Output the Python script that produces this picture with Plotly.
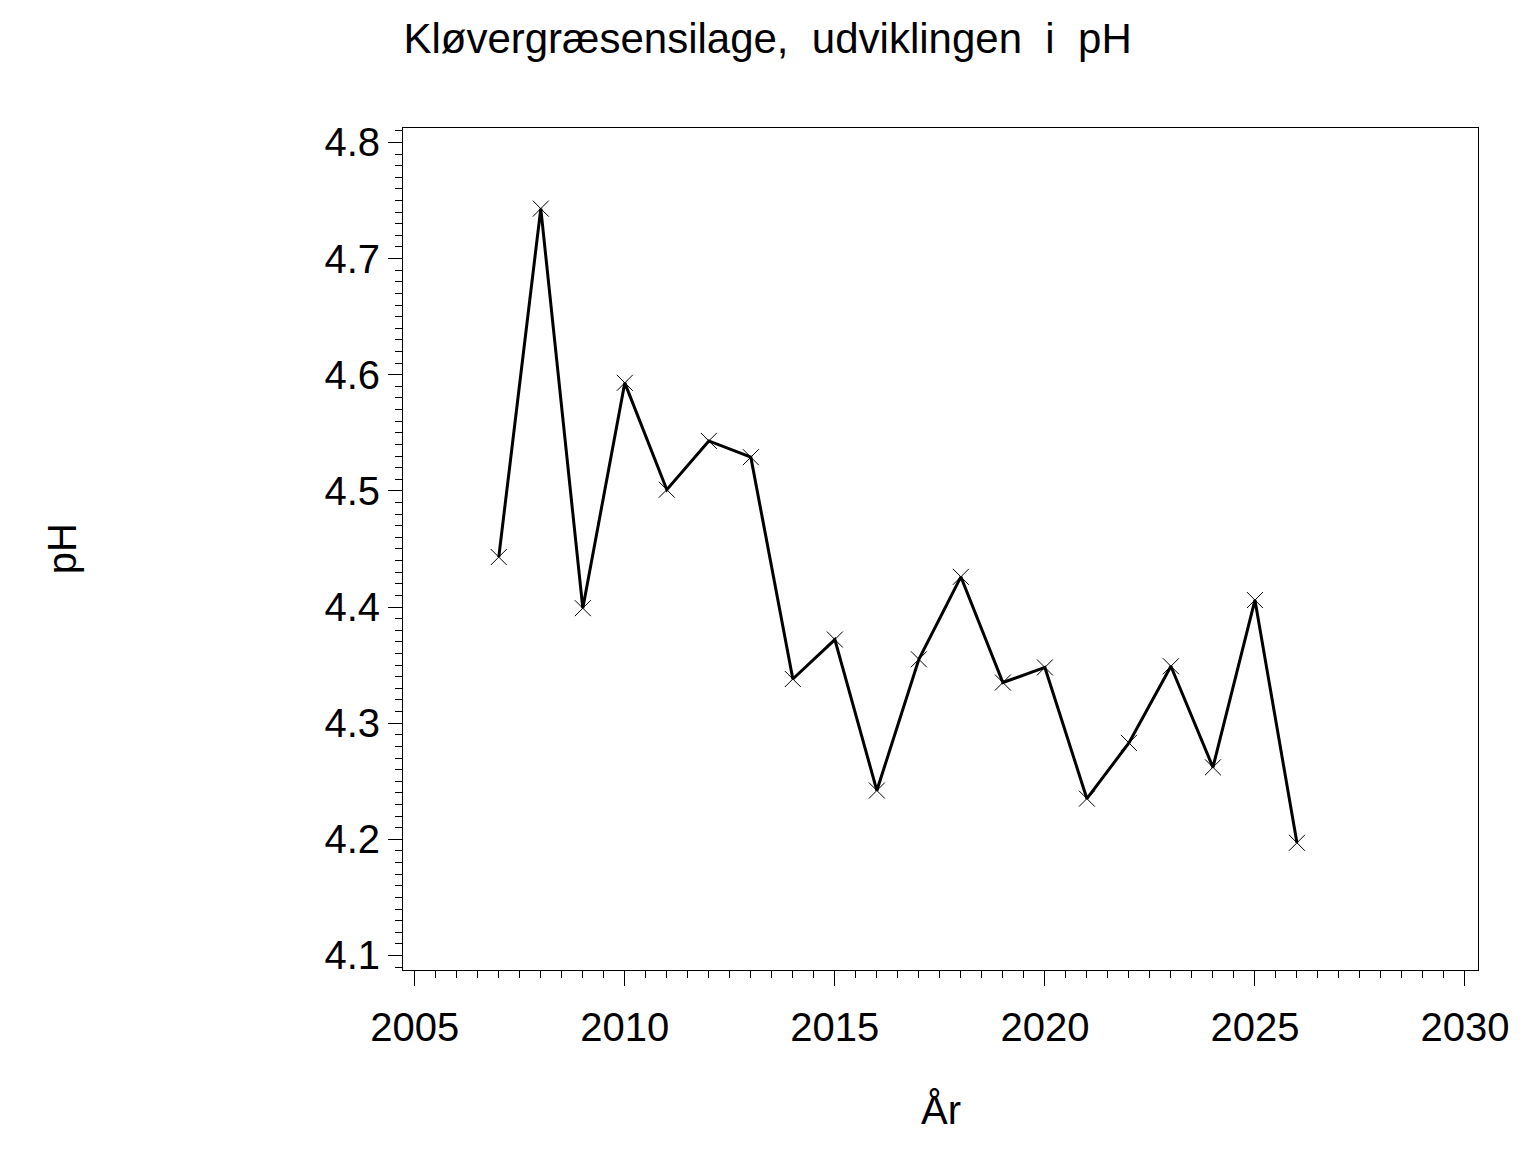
import plotly.graph_objects as go

# pH per year
years = [2007, 2008, 2009, 2010, 2011, 2012, 2013, 2014, 2015, 2016,
         2017, 2018, 2019, 2020, 2021, 2022, 2023, 2024, 2025, 2026]
ph = [4.443, 4.743, 4.399, 4.593, 4.501, 4.543, 4.529, 4.338, 4.372, 4.242,
      4.355, 4.426, 4.335, 4.348, 4.235, 4.283, 4.349, 4.262, 4.406, 4.197]

title_text = "Kløvergræsensilage,  udviklingen  i  pH"
x_title = "År"
y_title = "pH"

font_fam = "Liberation Sans, Arial, sans-serif"

fig = go.Figure()
fig.add_trace(go.Scatter(
    x=years, y=ph, mode="lines+markers",
    line=dict(color="black", width=3),
    marker=dict(symbol="x-thin-open", size=16, color="black",
                line=dict(color="black", width=1)),
    showlegend=False,
))

# page body adds 8px, so margins are shifted a bit
fig.update_layout(
    width=1536, height=1152,
    margin=dict(l=395, r=66, t=120, b=190),
    paper_bgcolor="white", plot_bgcolor="white",
    font=dict(family=font_fam, color="black"),
    title=dict(text=title_text, x=0.4945, xref="container", xanchor="center",
               y=0.974, yref="container", yanchor="middle",
               font=dict(size=42)),
)

fig.update_xaxes(
    range=[2004.72, 2030.31], dtick=5, tick0=2005,
    showline=True, linecolor="black", linewidth=1, mirror=True,
    ticks="outside", ticklen=15, tickwidth=1, tickcolor="black",
    minor=dict(dtick=0.5, ticks="outside", ticklen=7, tickwidth=1, tickcolor="black"),
    showgrid=False, zeroline=False,
    tickfont=dict(size=40), ticklabelstandoff=7,
)
fig.update_yaxes(
    range=[4.0875, 4.8124], dtick=0.1, tick0=4.1, tickformat=".1f",
    showline=True, linecolor="black", linewidth=1, mirror=True,
    ticks="outside", ticklen=14, tickwidth=1, tickcolor="black",
    minor=dict(dtick=0.01, ticks="outside", ticklen=7, tickwidth=1, tickcolor="black"),
    showgrid=False, zeroline=False,
    tickfont=dict(size=40),
)

fig.add_annotation(text=x_title, xref="paper", yref="paper", x=0.5, y=-0.166,
                   xanchor="center", yanchor="middle", showarrow=False,
                   font=dict(size=40))
fig.add_annotation(text=y_title, xref="paper", yref="paper", x=-0.317, y=0.5,
                   xanchor="center", yanchor="middle", showarrow=False,
                   textangle=-90, font=dict(size=40))

fig.write_html("out.html")
